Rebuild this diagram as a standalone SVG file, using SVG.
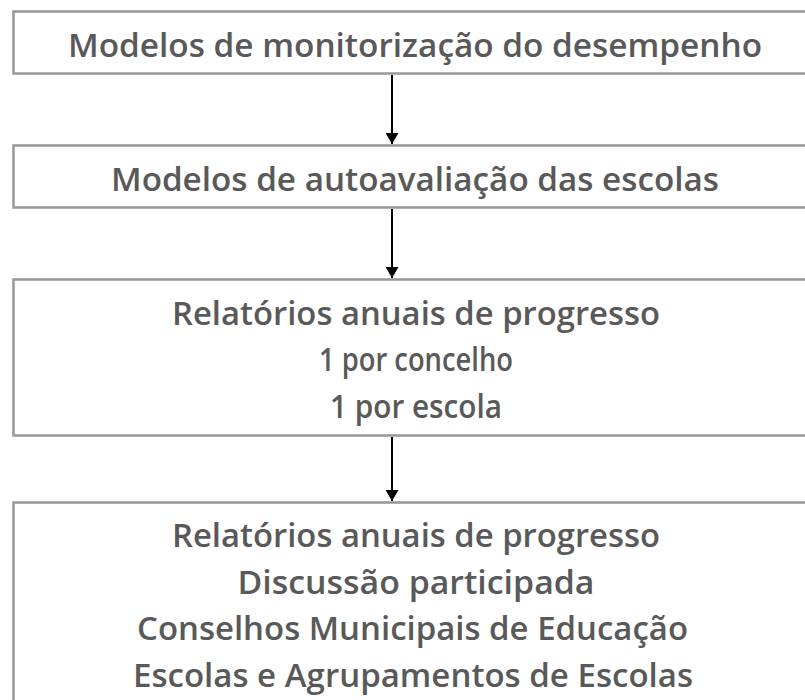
<svg xmlns="http://www.w3.org/2000/svg" width="805" height="700" viewBox="0 0 805 700">
<style>
.box{fill:#ffffff;stroke:#979797;stroke-width:2.5}
.t{font-family:"Open Sans","Liberation Sans",sans-serif;font-size:33px;font-weight:600;fill:#595959;text-anchor:middle}
.c{stroke:#000;stroke-width:2;fill:none}
</style>
<defs>
<marker id="ah" viewBox="0 0 11 13" refX="11" refY="6.5" markerWidth="11" markerHeight="13" markerUnits="userSpaceOnUse" orient="auto">
<path d="M0,0 L11,6.5 L0,13 Z" fill="#000"/>
</marker>
</defs>
<rect width="805" height="700" fill="#ffffff"/>
<g id="n1">
<rect class="box" x="13.5" y="11.5" width="820" height="62"/>
<text class="t" x="415" y="57" textLength="694" lengthAdjust="spacingAndGlyphs">Modelos de monitorização do desempenho</text>
</g>
<g id="n2">
<rect class="box" x="13.5" y="145.5" width="820" height="62"/>
<text class="t" x="415" y="190.5" textLength="608" lengthAdjust="spacingAndGlyphs">Modelos de autoavaliação das escolas</text>
</g>
<g id="n3">
<rect class="box" x="13.5" y="279.5" width="820" height="156"/>
<text class="t" x="416" y="324.5" textLength="488" lengthAdjust="spacingAndGlyphs">Relatórios anuais de progresso</text>
<text class="t" x="416" y="371" textLength="194" lengthAdjust="spacingAndGlyphs">1 por concelho</text>
<text class="t" x="416" y="418" textLength="172" lengthAdjust="spacingAndGlyphs">1 por escola</text>
</g>
<g id="n4">
<rect class="box" x="13.5" y="502.5" width="820" height="230"/>
<text class="t" x="416" y="547" textLength="488" lengthAdjust="spacingAndGlyphs">Relatórios anuais de progresso</text>
<text class="t" x="416" y="593.5" textLength="357" lengthAdjust="spacingAndGlyphs">Discussão participada</text>
<text class="t" x="412.5" y="640" textLength="551" lengthAdjust="spacingAndGlyphs">Conselhos Municipais de Educação</text>
<text class="t" x="413" y="687" textLength="560" lengthAdjust="spacingAndGlyphs">Escolas e Agrupamentos de Escolas</text>
</g>
<g id="connectors">
<line class="c" x1="392" y1="75" x2="392" y2="144" marker-end="url(#ah)"/>
<line class="c" x1="392" y1="209" x2="392" y2="278" marker-end="url(#ah)"/>
<line class="c" x1="392" y1="437" x2="392" y2="501" marker-end="url(#ah)"/>
</g>
</svg>
